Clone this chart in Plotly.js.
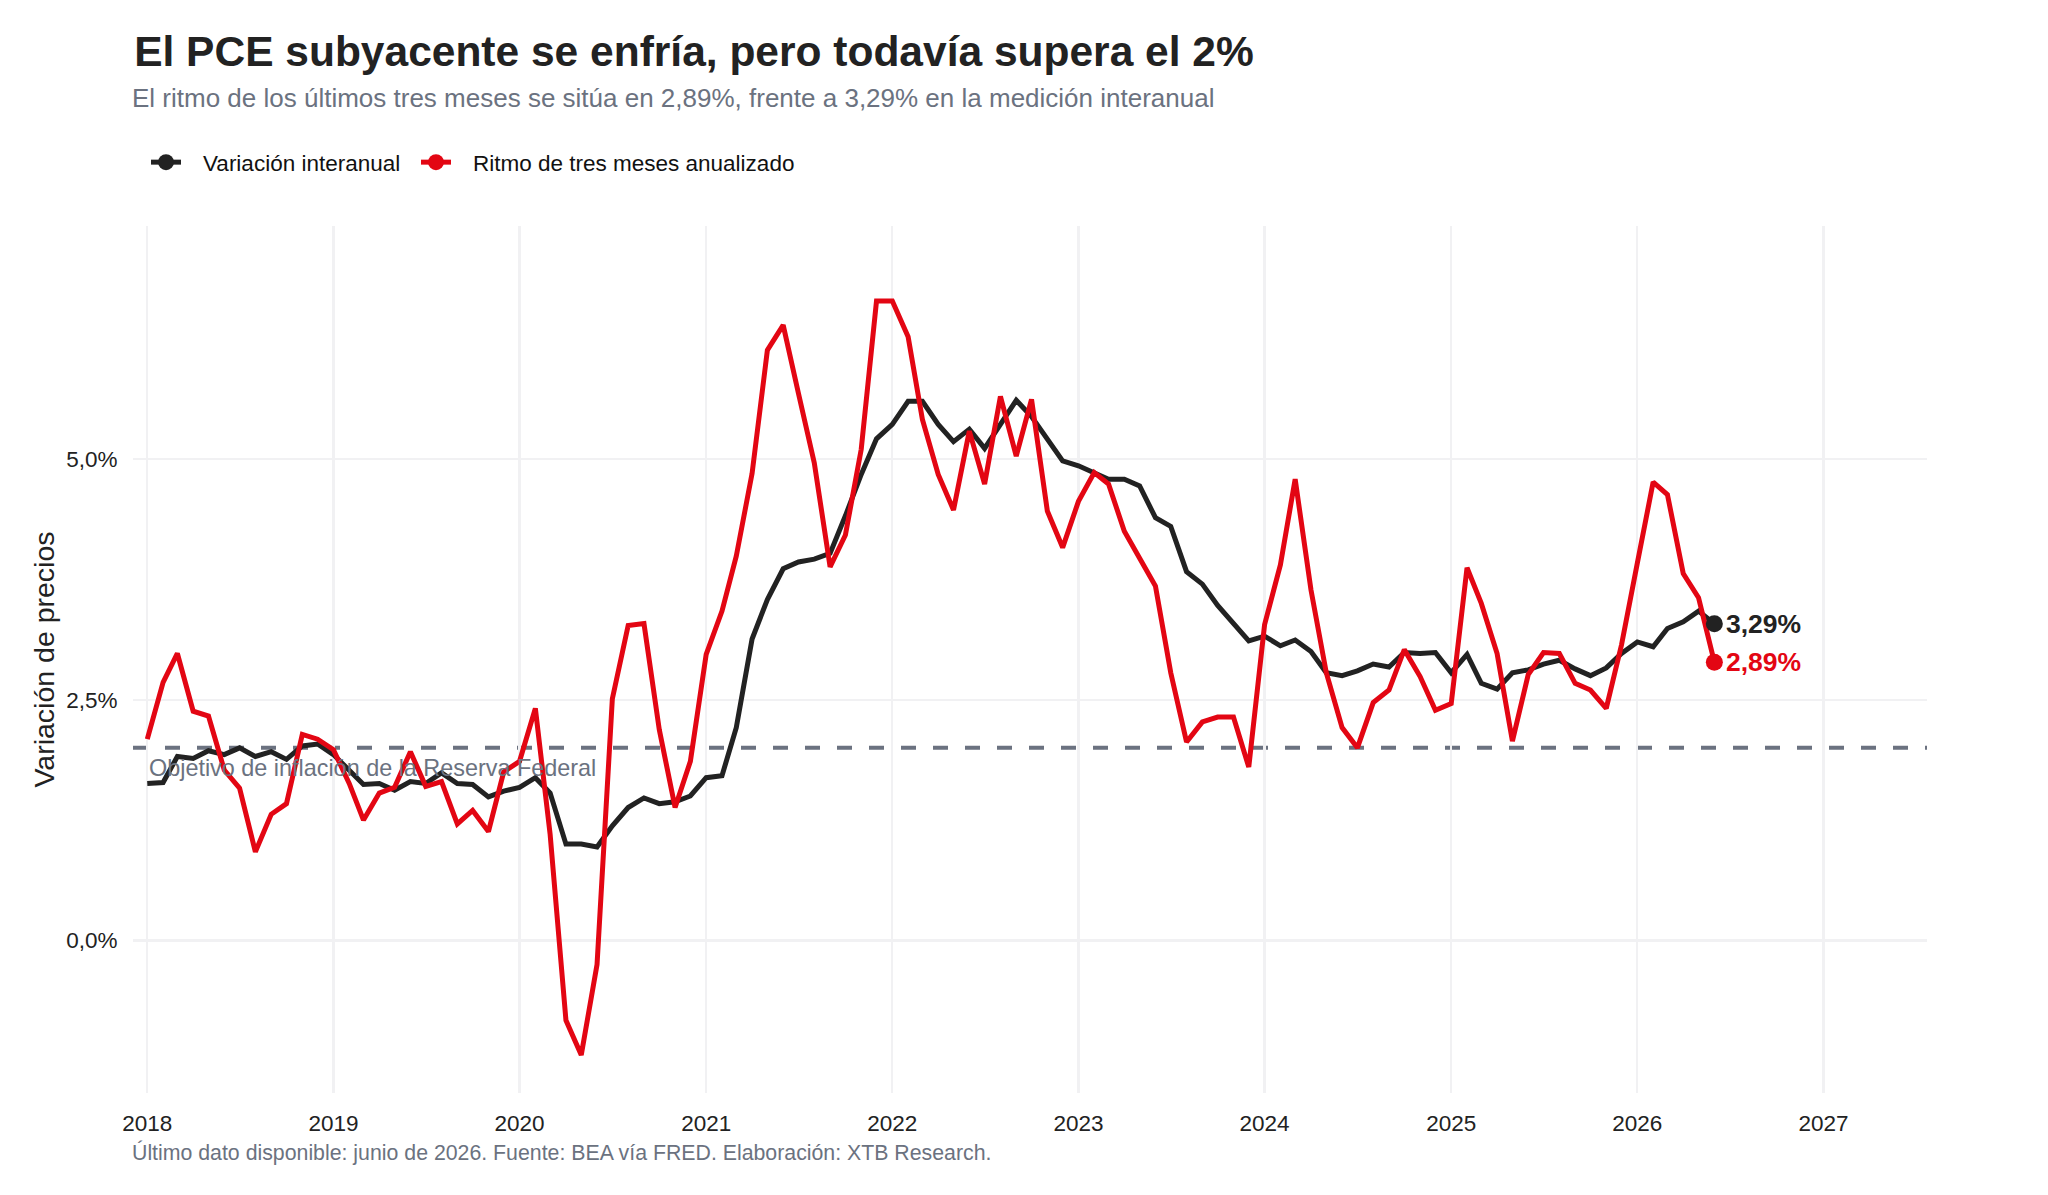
<!DOCTYPE html>
<html>
<head>
<meta charset="utf-8">
<script src="https://cdn.plot.ly/plotly-3.0.1.min.js"></script>
<style>
  html, body { margin: 0; padding: 0; background: #ffffff; }
  #chart { width: 2048px; height: 1195px; }
</style>
</head>
<body>
<div id="chart"></div>
<script>
// core PCE, monthly, Jan 2018 .. Jun 2026
const yoy = [
  1.63, 1.64, 1.91, 1.89, 1.97, 1.93, 2.00, 1.91, 1.96, 1.88, 2.02, 2.04,
  1.93, 1.77, 1.62, 1.63, 1.56, 1.65, 1.63, 1.74, 1.63, 1.62, 1.49, 1.55,
  1.59, 1.69, 1.53, 1.00, 1.00, 0.97, 1.19, 1.38, 1.48, 1.42, 1.44, 1.50,
  1.69, 1.71, 2.21, 3.13, 3.54, 3.86, 3.93, 3.96, 4.02, 4.41, 4.84, 5.21,
  5.36, 5.60, 5.60, 5.36, 5.18, 5.31, 5.11, 5.36, 5.61, 5.44, 5.20, 4.98,
  4.93, 4.85, 4.79, 4.79, 4.72, 4.39, 4.30, 3.83, 3.70, 3.48, 3.30, 3.11,
  3.16, 3.06, 3.12, 3.00, 2.78, 2.75, 2.80, 2.87, 2.84, 2.99, 2.98, 2.99,
  2.78, 2.97, 2.67, 2.61, 2.78, 2.81, 2.87, 2.91, 2.82, 2.75, 2.83, 2.98,
  3.10, 3.05, 3.24, 3.31, 3.42, 3.29
];
const threeMonth = [
  2.09, 2.68, 2.98, 2.38, 2.33, 1.77, 1.58, 0.92, 1.31, 1.42, 2.14, 2.09,
  1.98, 1.63, 1.25, 1.53, 1.59, 1.96, 1.60, 1.65, 1.21, 1.35, 1.13, 1.75,
  1.86, 2.41, 1.10, -0.83, -1.19, -0.25, 2.51, 3.27, 3.29, 2.19, 1.38, 1.86,
  2.97, 3.42, 3.99, 4.85, 6.13, 6.39, 5.68, 4.96, 3.88, 4.21, 5.10, 6.64,
  6.64, 6.27, 5.41, 4.84, 4.47, 5.29, 4.74, 5.65, 5.03, 5.62, 4.46, 4.08,
  4.56, 4.86, 4.74, 4.25, 3.97, 3.68, 2.78, 2.06, 2.27, 2.32, 2.32, 1.80,
  3.28, 3.90, 4.79, 3.64, 2.78, 2.21, 2.00, 2.47, 2.60, 3.02, 2.74, 2.39,
  2.46, 3.87, 3.50, 2.98, 2.07, 2.76, 2.99, 2.98, 2.67, 2.60, 2.41, 3.07,
  3.92, 4.76, 4.63, 3.81, 3.56, 2.89
];
const fedTarget = 2;

const yearTicks = ['2018', '2019', '2020', '2021', '2022', '2023', '2024', '2025', '2026', '2027'];
const yTickVals = [0, 2.5, 5];
const yTickText = ['0,0%', '2,5%', '5,0%'];

const BLACK = '#222222';
const RED = '#e30613';
const GREY = '#6b7280';
const FONT = 'Liberation Sans, Arial, sans-serif';
const PAD_L = '\u00a0\u00a0\u2009';
const PAD_R = '\u00a0\u2009';

const dates = yoy.map(function (_, i) {
  const y = 2018 + Math.floor(i / 12);
  const m = (i % 12) + 1;
  return y + '-' + String(m).padStart(2, '0') + '-01';
});
const last = dates.length - 1;
const fmt = v => v.toFixed(2).replace('.', ',') + '%';

function lineTrace(vals, color, name) {
  return {
    x: dates, y: vals, name: name, type: 'scatter', mode: 'lines',
    line: { color: color, width: 5 }, showlegend: false, hoverinfo: 'skip'
  };
}
// last point with the big dot; also carries the legend entry
function endTrace(vals, color, name) {
  return {
    x: [dates[last]], y: [vals[last]], name: PAD_L + name + PAD_R, type: 'scatter',
    mode: 'lines+markers', line: { color: color, width: 5 },
    marker: { color: color, size: 17 }, hoverinfo: 'skip'
  };
}

const data = [
  lineTrace(yoy, BLACK, 'Variación interanual'),
  lineTrace(threeMonth, RED, 'Ritmo de tres meses anualizado'),
  endTrace(yoy, BLACK, 'Variación interanual'),
  endTrace(threeMonth, RED, 'Ritmo de tres meses anualizado')
];

const layout = {
  width: 2048, height: 1195,
  paper_bgcolor: '#ffffff', plot_bgcolor: '#ffffff',
  margin: { l: 133, r: 121, t: 226, b: 102 },
  font: { family: FONT, color: BLACK },
  title: {
    text: '<b>El PCE subyacente se enfría, pero todavía supera el 2%</b>',
    xref: 'container', x: 0.0655, xanchor: 'left',
    yref: 'container', y: 0.957, yanchor: 'middle',
    font: { size: 42.5, color: BLACK, family: FONT }
  },
  legend: {
    orientation: 'h', xref: 'container', yref: 'container',
    x: 0.0713, xanchor: 'left', y: 0.864, yanchor: 'middle',
    itemwidth: 30,
    font: { size: 22.5, color: '#111111' }, bgcolor: 'rgba(0,0,0,0)'
  },
  xaxis: {
    type: 'date',
    range: ['2017-12-04', '2027-07-23'],
    tickvals: yearTicks.map(y => y + '-01-01'),
    ticktext: yearTicks,
    showgrid: true, gridcolor: '#f1f1f3', gridwidth: 2.2,
    zeroline: false, showline: false,
    ticks: 'outside', ticklen: 10, tickcolor: 'rgba(0,0,0,0)',
    tickfont: { size: 22.5, color: BLACK }
  },
  yaxis: {
    range: [-1.585, 7.42],
    tickvals: yTickVals, ticktext: yTickText,
    showgrid: true, gridcolor: '#f1f1f3', gridwidth: 2.2,
    zeroline: false, showline: false,
    ticks: 'outside', ticklen: 10, tickcolor: 'rgba(0,0,0,0)',
    tickfont: { size: 22.5, color: BLACK },
    title: { text: 'Variación de precios', standoff: 3, font: { size: 28.5, color: BLACK } }
  },
  shapes: [{
    type: 'line', xref: 'paper', x0: 0, x1: 1, yref: 'y', y0: fedTarget, y1: fedTarget,
    line: { color: GREY, width: 4, dash: '15px,17px' }, layer: 'below'
  }],
  annotations: [
    {
      text: 'El ritmo de los últimos tres meses se sitúa en ' + fmt(threeMonth[last]) +
            ', frente a ' + fmt(yoy[last]) + ' en la medición interanual',
      xref: 'paper', x: -0.0015, xanchor: 'left',
      yref: 'paper', y: 1.1476, yanchor: 'middle',
      showarrow: false, font: { size: 26, color: GREY }
    },
    {
      text: 'Último dato disponible: junio de 2026. Fuente: BEA vía FRED. Elaboración: XTB Research.',
      xref: 'paper', x: -0.0015, xanchor: 'left',
      yref: 'paper', y: -0.069, yanchor: 'middle',
      showarrow: false, font: { size: 21.3, color: GREY }
    },
    {
      text: 'Objetivo de inflación de la Reserva Federal',
      xref: 'x', x: dates[0], xanchor: 'left',
      yref: 'y', y: fedTarget, yanchor: 'top', yshift: -5,
      showarrow: false, font: { size: 23.4, color: GREY }
    },
    {
      text: '<b>' + fmt(yoy[last]) + '</b>',
      xref: 'x', x: dates[last], xanchor: 'left', xshift: 10,
      yref: 'y', y: yoy[last], yanchor: 'middle',
      showarrow: false, font: { size: 26.5, color: BLACK }
    },
    {
      text: '<b>' + fmt(threeMonth[last]) + '</b>',
      xref: 'x', x: dates[last], xanchor: 'left', xshift: 10,
      yref: 'y', y: threeMonth[last], yanchor: 'middle',
      showarrow: false, font: { size: 26.5, color: RED }
    }
  ]
};

Plotly.newPlot('chart', data, layout, { displayModeBar: false, staticPlot: true });
</script>
</body>
</html>
